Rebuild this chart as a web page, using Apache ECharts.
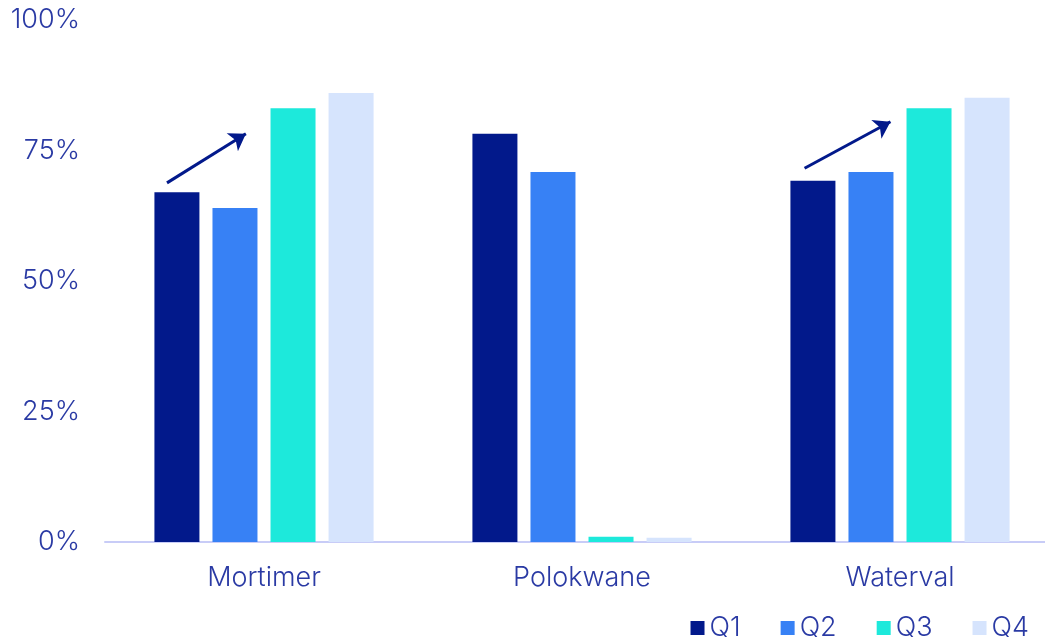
<!DOCTYPE html>
<html>
<head>
<meta charset="utf-8">
<script src="https://cdn.jsdelivr.net/npm/echarts@6/dist/echarts.min.js"></script>
<style>
  html, body { margin: 0; padding: 0; background: #fff; }
  #chart { width: 1045px; height: 637px; }
</style>
</head>
<body>
<div id="chart"></div>
<script>
// Sites and quarterly occupancy shares (%)
const categories = ['Mortimer', 'Polokwane', 'Waterval'];
const quarters = ['Q1', 'Q2', 'Q3', 'Q4'];
const q1 = [67, 78.2, 69.2];
const q2 = [64, 70.9, 70.9];
const q3 = [83.1, 1, 83.1];
const q4 = [86, 0.8, 85.1];
const colors = ['#02198B', '#3781F5', '#1DE9DB', '#D6E4FD'];
const yTicks = [0, 25, 50, 75, 100];

// Trend arrows: [category position, value] start and end points
const arrows = [
  [[-0.305, 68.8], [-0.057, 78.2]],
  [[1.70, 71.6], [1.97, 80.5]]
];

const textColor = '#2A3AA4';
const font = 'Inter, "Noto Sans", sans-serif';
const fontSize = 27;

const barSeries = [q1, q2, q3, q4].map((vals, i) => ({
  name: quarters[i],
  type: 'bar',
  data: vals,
  barWidth: 45,
  barGap: '29%',
  itemStyle: { color: colors[i] },
  emphasis: { disabled: true }
}));

const chart = echarts.init(document.getElementById('chart'));
chart.setOption({
  animation: false,
  color: colors,
  textStyle: { fontFamily: font },
  grid: { left: 105, width: 954, top: 20, bottom: 95, containLabel: false, outerBoundsMode: 'none' },
  legend: {
    data: quarters,
    right: 16,
    top: 613,
    padding: 0,
    icon: 'rect',
    itemWidth: 14,
    itemHeight: 14,
    itemGap: 40,
    textStyle: { color: textColor, fontSize: fontSize, fontWeight: 300, fontFamily: font, lineHeight: 30 }
  },
  xAxis: [{
    type: 'category',
    data: categories,
    axisLine: { lineStyle: { color: '#C8CCF7', width: 2 } },
    axisTick: { show: false },
    axisLabel: { color: textColor, fontSize: fontSize, fontWeight: 300, margin: 22, fontFamily: font }
  }, {
    type: 'value',
    min: -0.5,
    max: 2.5,
    show: false
  }],
  yAxis: {
    type: 'value',
    min: 0,
    max: 100,
    interval: 25,
    axisLine: { show: false },
    axisTick: { show: false },
    splitLine: { show: false },
    axisLabel: {
      color: textColor, fontSize: fontSize, fontWeight: 300, margin: 25, fontFamily: font,
      formatter: v => (yTicks.includes(v) ? v + '%' : '')
    }
  },
  series: barSeries.concat([{
    type: 'lines',
    coordinateSystem: 'cartesian2d',
    xAxisIndex: 1,
    yAxisIndex: 0,
    symbol: ['none', 'arrow'],
    symbolSize: 16,
    lineStyle: { color: '#02198B', width: 3, opacity: 1 },
    data: arrows.map(a => ({ coords: a })),
    silent: true,
    z: 5
  }])
});
</script>
</body>
</html>
